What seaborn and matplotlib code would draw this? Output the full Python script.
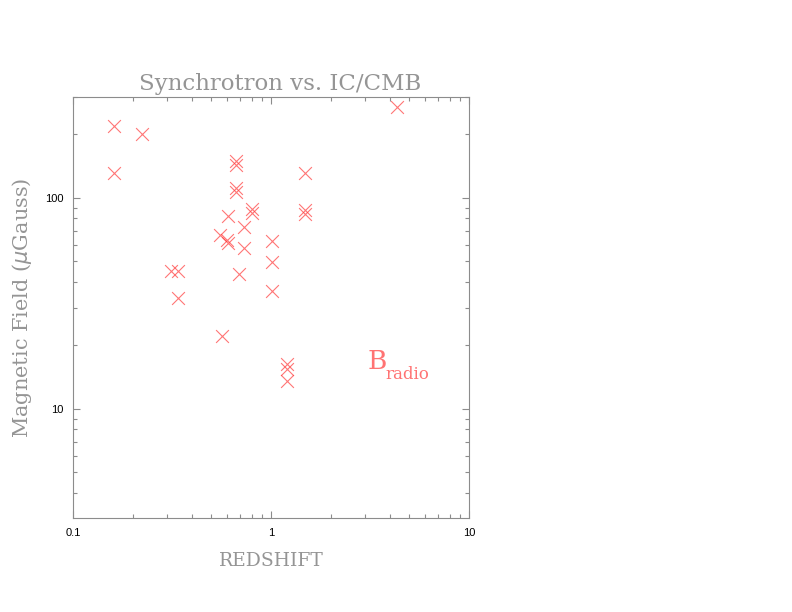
#!/usr/bin/env python3
"""Synchrotron vs. IC/CMB: magnetic field against redshift, log-log."""

import pandas as pd
import seaborn as sns
import matplotlib
matplotlib.use("Agg")
import matplotlib.pyplot as plt
from matplotlib.ticker import FixedLocator, NullFormatter, LogLocator

# values (redshift, B in microGauss)
redshift = [0.161, 0.161, 0.223, 4.33, 0.666, 0.666, 0.666, 0.666,
            1.485, 1.485, 1.48, 0.80, 0.80, 0.606, 0.731, 0.553,
            0.60, 0.605, 0.731, 1.01, 1.01, 0.313, 0.339, 0.339,
            0.689, 1.01, 0.566, 1.205, 1.205, 1.205]
b_field = [219, 131, 201, 270, 150, 143, 111, 107,
           131, 87.7, 84, 88.6, 84.7, 82.2, 73, 66.8,
           63.2, 61.3, 58, 62.5, 49.8, 45.1, 45.1, 33.6,
           43.6, 36.2, 22.2, 16.3, 15.5, 13.6]

x_ticks = [0.1, 1, 10]
x_tick_labels = ["0.1", "1", "10"]
y_ticks = [10, 100]
y_tick_labels = ["10", "100"]

GRAY = "#8c8c8c"
TEXT_GRAY = "#959595"


def main():
    df = pd.DataFrame({"z": redshift, "B": b_field})

    sns.set_style("ticks")
    fig = plt.figure(figsize=(7.92, 6.12), dpi=100)
    ax = fig.add_axes([0.0922, 0.1536, 0.5, 0.6879])

    sns.scatterplot(data=df, x="z", y="B", marker="x", color="#ff3c3c",
                    s=85, linewidth=0.8, alpha=0.7, ax=ax)

    ax.set_xscale("log")
    ax.set_yscale("log")
    ax.set_xlim(0.1, 10)
    ax.set_ylim(3.04, 301)

    ax.xaxis.set_major_locator(FixedLocator(x_ticks))
    ax.set_xticklabels(x_tick_labels)
    ax.yaxis.set_major_locator(FixedLocator(y_ticks))
    ax.set_yticklabels(y_tick_labels)
    for axis in (ax.xaxis, ax.yaxis):
        axis.set_minor_locator(LogLocator(base=10, subs=range(2, 10)))
        axis.set_minor_formatter(NullFormatter())

    ax.tick_params(which="both", direction="in", top=True, right=True,
                   color=GRAY, width=0.8, labelsize=8, labelcolor="black",
                   pad=7)
    ax.tick_params(which="major", length=5)
    ax.tick_params(which="minor", length=3)
    for lab in ax.get_xticklabels() + ax.get_yticklabels():
        lab.set_family("Liberation Sans")
    for sp in ax.spines.values():
        sp.set_color(GRAY)
        sp.set_linewidth(0.8)

    ax.set_title("Synchrotron vs. IC/CMB", family="DejaVu Serif",
                 fontsize=16.5, color=TEXT_GRAY, pad=5, x=0.522)
    ax.set_xlabel("REDSHIFT", family="DejaVu Serif", fontsize=13.5,
                  color=TEXT_GRAY, labelpad=10)
    ax.set_ylabel(r"Magnetic Field ($\mu$Gauss)", family="DejaVu Serif",
                  fontsize=15, color=TEXT_GRAY, labelpad=8)

    ax.text(0.745, 0.355, r"B", transform=ax.transAxes, fontsize=19,
            family="DejaVu Serif", color="#ff5050", alpha=0.8)
    ax.text(0.79, 0.33, "radio", transform=ax.transAxes, fontsize=12,
            family="DejaVu Serif", color="#ff5050", alpha=0.8)

    fig.savefig("out.png", dpi=100)


if __name__ == "__main__":
    main()
